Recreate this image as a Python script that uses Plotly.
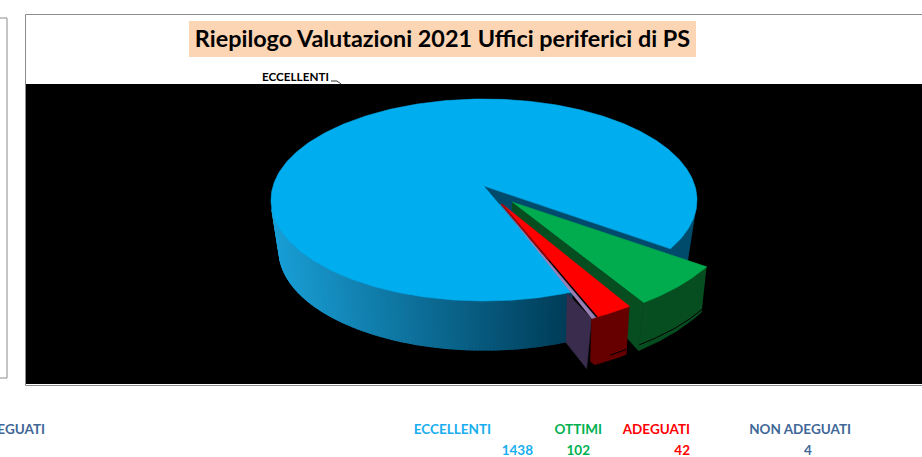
import numpy as np
import plotly.graph_objects as go

# ---- data ----
categories = ["ECCELLENTI", "OTTIMI", "ADEGUATI", "NON ADEGUATI"]
values = [1438, 102, 42, 4]
title_text = "Riepilogo Valutazioni 2021 Uffici periferici di PS"
label_colors = ["#17AEEF", "#00B050", "#FF0000", "#3F6797"]

# ---- pie projection geometry (screen pixels) ----
W, H = 922, 457
FIRST_SLICE_END = 31.8  # angle (deg, clockwise from 3 o'clock) at which ECCELLENTI ends
APEX = (484, 186)
TOP = dict(cx=484, cy=200, rx=213, ry=101)
BOT = dict(cx=484, cy=250, rx=205, ry=100)
RAY = dict(rx=213.5, back=86, front=116)
EXPLODED = {
    "OTTIMI": dict(cx=512, cy=202, rx=229, ry=123, dx=-5, dy=48),
    "ADEGUATI": dict(cx=502, cy=204, rx=222, ry=125, dx=-3, dy=48),
    "NON ADEGUATI": dict(cx=500, cy=204, rx=220, ry=126, dx=-5, dy=50),
}

total = sum(values)
sweeps = [v / total * 360 for v in values]
end0 = FIRST_SLICE_END
start0 = end0 - sweeps[0]
bounds = {"OTTIMI": (end0, end0 + sweeps[1])}
bounds["ADEGUATI"] = (bounds["OTTIMI"][1], bounds["OTTIMI"][1] + sweeps[2])
bounds["NON ADEGUATI"] = (bounds["ADEGUATI"][1], bounds["ADEGUATI"][1] + sweeps[3])

fig = go.Figure()


def poly(xs, ys, color, line=None, lw=0.6):
    fig.add_trace(go.Scatter(x=list(xs), y=list(ys), mode="lines", fill="toself", fillcolor=color,
                             line=dict(color=line or color, width=lw), hoverinfo="skip", showlegend=False))


def stroke(xs, ys, color="#000000", width=1):
    fig.add_trace(go.Scatter(x=list(xs), y=list(ys), mode="lines", line=dict(color=color, width=width),
                             hoverinfo="skip", showlegend=False))


def main_top(t):
    """Rim point hit by the ray from the apex at slice angle t (perspective of the 3-D pie)."""
    r = np.radians(np.asarray(t, dtype=float))
    ry = np.where(np.sin(r) > 0, RAY["front"], RAY["back"])
    ux, uy = RAY["rx"] * np.cos(r) / TOP["rx"], ry * np.sin(r) / TOP["ry"]
    ox, oy = (APEX[0] - TOP["cx"]) / TOP["rx"], (APEX[1] - TOP["cy"]) / TOP["ry"]
    A = ux ** 2 + uy ** 2
    B = 2 * (ox * ux + oy * uy)
    C = ox ** 2 + oy ** 2 - 1
    s = (-B + np.sqrt(B ** 2 - 4 * A * C)) / (2 * A)
    return APEX[0] + s * RAY["rx"] * np.cos(r), APEX[1] + s * ry * np.sin(r)


def param(x, y):
    return np.degrees(np.arctan2((y - TOP["cy"]) / TOP["ry"], (x - TOP["cx"]) / TOP["rx"]))


def ell(e, phi):
    r = np.radians(phi)
    return e["cx"] + e["rx"] * np.cos(r), e["cy"] + e["ry"] * np.sin(r)


def rim(g, t):
    r = np.radians(t)
    return g["cx"] + g["rx"] * np.cos(r), g["cy"] + g["ry"] * np.sin(r)


def mix(c1, c2, f):
    return "rgb(%d,%d,%d)" % tuple(c1[i] + (c2[i] - c1[i]) * f for i in range(3))


# ---- ECCELLENTI: wall, gradient from the left ----
dark = (0, 60, 88)
light = (26, 160, 215)
sx, sy = main_top(start0)
ex, ey = main_top(end0)
phi_start, phi_end = param(sx, sy), param(ex, ey)
edges = np.linspace(phi_start, 175, 110)
for a, b in zip(edges[:-1], edges[1:]):
    seg = np.linspace(a, min(b + 0.6, 175), 3)
    tx, ty = ell(TOP, seg)
    bx, by = ell(BOT, seg)
    f = np.clip(1 - (tx.mean() - 270) / 300, 0, 1)
    poly(np.r_[tx, bx[::-1]], np.r_[ty, by[::-1]], mix(dark, light, f), lw=1.2)

seg = np.linspace(5, phi_end, 30)
tx, ty = ell(TOP, seg)
bx, by = ell(BOT, seg)
poly(np.r_[tx, bx[::-1]], np.r_[ty, by[::-1]], "#004A6C")

# inner cut face
poly([APEX[0], ex, ex - 6, APEX[0]], [APEX[1], ey, ey + 50, APEX[1] + 30], "#004A6C")

# top face
seg = np.linspace(end0, start0, 400)
tx, ty = main_top(seg)
poly(np.r_[APEX[0], tx], np.r_[APEX[1], ty], "#00ADEF")

# ---- OTTIMI ----
g = EXPLODED["OTTIMI"]
a, b = bounds["OTTIMI"]
seg = np.linspace(a, b, 40)
tx, ty = rim(g, seg)
poly(np.r_[tx, tx[::-1] + g["dx"]], np.r_[ty, ty[::-1] + g["dy"] * (0.94 + 0.06 * (seg[::-1] - a) / (b - a))], "#064D20")
poly([g["cx"], tx[-1], tx[-1] + g["dx"], g["cx"]], [g["cy"], ty[-1], ty[-1] + g["dy"], g["cy"] + 8], "#064D20")
stroke(tx + g["dx"] + 1, ty + 42, "#000000", 1)
poly(np.r_[g["cx"], tx], np.r_[g["cy"], ty], "#00AC4E")

# ---- NON ADEGUATI wall ----
g = EXPLODED["NON ADEGUATI"]
a, b = bounds["NON ADEGUATI"]
ox, oy = rim(g, np.array([b]))
ix = g["cx"] + (ox[0] - g["cx"]) * 0.73
iy = g["cy"] + (oy[0] - g["cy"]) * 0.78
poly([ix, ox[0], ox[0] + g["dx"], ix - 1], [iy, oy[0], oy[0] + g["dy"], iy + 49], "#392C4C")
na_ox, na_oy = ox[0], oy[0]

# ---- ADEGUATI ----
g = EXPLODED["ADEGUATI"]
a, b = bounds["ADEGUATI"]
seg = np.linspace(a, b, 20)
tx, ty = rim(g, seg)
poly(np.r_[tx, na_ox, na_ox - 1, tx[-1] + g["dx"], tx[::-1] + g["dx"]],
     np.r_[ty, na_oy, na_oy + 43, ty[-1] + g["dy"], ty[::-1] + g["dy"]], "#660000")
near = seg < a + (b - a) * 0.55
stroke(tx[near] + g["dx"], ty[near] + g["dy"] - 5, "#000000", 1)
poly(np.r_[g["cx"], tx], np.r_[g["cy"], ty], "#FF0000")

# ---- NON ADEGUATI top ----
g = EXPLODED["NON ADEGUATI"]
a, b = bounds["NON ADEGUATI"]
seg = np.linspace(a - 0.3, b, 5)
tx, ty = rim(g, seg)
poly(np.r_[g["cx"], tx], np.r_[g["cy"], ty], "#9A7FB5")
# dark inner edge of ADEGUATI near the apex
g = EXPLODED["ADEGUATI"]
rx_, ry_ = rim(g, np.array([bounds["ADEGUATI"][1]]))
stroke([g["cx"] - 0.5, g["cx"] + (rx_[0] - g["cx"]) * 0.5 - 0.5],
       [g["cy"], g["cy"] + (ry_[0] - g["cy"]) * 0.5], "#A00000", 1.6)


# ---- text ----
def text(x, y, s, color, size, pos):
    fig.add_trace(go.Scatter(x=[x], y=[y], mode="text", text=[s], textposition=pos, cliponaxis=True,
                             textfont=dict(family="Lato", size=size, color=color, weight="bold"),
                             hoverinfo="skip", showlegend=False))


text(442.5, 41.5, title_text, "#000000", 23.4, "middle center")
text(262, 78.5, categories[0], "#000000", 11.7, "middle right")
stroke([331, 337, 341], [81, 81, 84], "#333333", 1)

row1 = [(491, "middle left"), (602, "middle left"), (690, "middle left"), (851, "middle left")]
row2 = [(533, "middle left"), (590, "middle left"), (690, "middle left"), (808, "middle center")]
for i, c in enumerate(categories):
    text(row1[i][0], 431, c, label_colors[i], 13.5, row1[i][1])
    text(row2[i][0], 452, str(values[i]), label_colors[i], 13.5, row2[i][1])
text(45, 431, categories[3], label_colors[3], 13.5, "middle left")

grey = "#8C8C8C"
fig.update_layout(
    width=W, height=H, margin=dict(l=0, r=0, t=0, b=0), paper_bgcolor="white", plot_bgcolor="white",
    xaxis=dict(range=[0, W], visible=False, fixedrange=True),
    yaxis=dict(range=[H, 0], visible=False, fixedrange=True),
    showlegend=False,
    shapes=[
        dict(type="rect", x0=-5, x1=7, y0=18, y1=378, line=dict(color=grey, width=1), fillcolor="white", layer="below"),
        dict(type="rect", x0=25.5, x1=930, y0=14.5, y1=385.5, line=dict(color=grey, width=1), fillcolor="white", layer="below"),
        dict(type="rect", x0=26, x1=930, y0=84, y1=384, line=dict(width=0), fillcolor="black", layer="below"),
        dict(type="rect", x0=189, x1=696, y0=21, y1=57, line=dict(width=0), fillcolor="#FCD5B4", layer="below"),
    ],
)
fig.write_html("out.html", config=dict(displayModeBar=False),
               post_script="document.body.style.margin='0';document.documentElement.style.overflow='hidden';")
